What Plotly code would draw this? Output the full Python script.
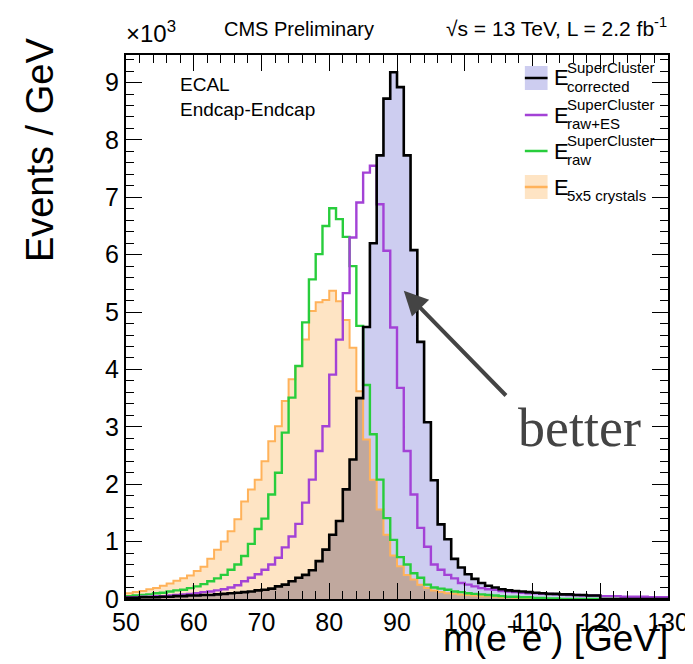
import numpy as np
import plotly.graph_objects as go

# ---------------- data (Events / GeV, in units of 10^3), 1 GeV bins from 50 to 130 ----------------
bin_edges = list(range(50, 131))

e_corrected = [
    0.02, 0.02, 0.03, 0.03, 0.03, 0.04, 0.04, 0.05, 0.05, 0.06,
    0.06, 0.07, 0.07, 0.08, 0.09, 0.10, 0.11, 0.12, 0.13, 0.15,
    0.16, 0.18, 0.22, 0.25, 0.31, 0.37, 0.42, 0.50, 0.66, 0.86,
    1.12, 1.36, 1.91, 2.43, 3.50, 4.74, 6.20, 7.73, 8.72, 9.18,
    8.92, 7.73, 6.08, 4.48, 3.08, 2.07, 1.30, 1.04, 0.70, 0.55,
    0.43, 0.35, 0.28, 0.23, 0.20, 0.17, 0.15, 0.14, 0.13, 0.12,
    0.11, 0.10, 0.09, 0.09, 0.08, 0.08, 0.07, 0.07, 0.06, 0.06,
    0.00, 0.00, 0.00, 0.00, 0.00, 0.00, 0.00, 0.00, 0.00, 0.00,
]

e_raw_es = [
    0.03, 0.03, 0.04, 0.04, 0.05, 0.05, 0.06, 0.07, 0.08, 0.09,
    0.10, 0.12, 0.13, 0.15, 0.17, 0.20, 0.24, 0.31, 0.37, 0.43,
    0.51, 0.60, 0.72, 0.90, 1.09, 1.31, 1.68, 2.08, 2.58, 3.01,
    3.91, 4.52, 5.33, 6.30, 6.91, 7.43, 7.55, 6.88, 6.07, 4.73,
    3.68, 2.58, 1.82, 1.24, 0.91, 0.60, 0.51, 0.42, 0.36, 0.28,
    0.25, 0.22, 0.19, 0.17, 0.16, 0.14, 0.13, 0.12, 0.11, 0.10,
    0.10, 0.09, 0.09, 0.08, 0.08, 0.07, 0.07, 0.06, 0.06, 0.06,
    0.05, 0.05, 0.05, 0.04, 0.04, 0.04, 0.04, 0.03, 0.03, 0.03,
]

e_raw = [
    0.05, 0.06, 0.07, 0.08, 0.10, 0.11, 0.13, 0.15, 0.16, 0.19,
    0.22, 0.26, 0.31, 0.36, 0.42, 0.51, 0.60, 0.75, 0.96, 1.22,
    1.40, 1.82, 2.20, 2.90, 3.51, 4.06, 4.82, 5.57, 6.01, 6.50,
    6.81, 6.62, 6.31, 5.80, 4.76, 3.73, 2.87, 2.08, 1.41, 1.03,
    0.73, 0.60, 0.45, 0.37, 0.25, 0.20, 0.18, 0.16, 0.13, 0.12,
    0.10, 0.09, 0.08, 0.07, 0.06, 0.05, 0.04, 0.04, 0.03, 0.03,
    0.02, 0.02, 0.01, 0.01, 0.00, 0.00, 0.00, 0.00, 0.00, 0.00,
    0.00, 0.00, 0.00, 0.00, 0.00, 0.00, 0.00, 0.00, 0.00, 0.00,
]

e_5x5 = [
    0.10, 0.12, 0.14, 0.17, 0.19, 0.23, 0.27, 0.32, 0.36, 0.41,
    0.49, 0.56, 0.70, 0.86, 1.00, 1.18, 1.39, 1.70, 1.91, 2.08,
    2.40, 2.75, 3.01, 3.45, 3.83, 4.06, 4.52, 5.02, 5.17, 5.21,
    5.37, 5.19, 4.86, 4.38, 3.62, 2.78, 2.08, 1.56, 1.12, 0.76,
    0.57, 0.42, 0.34, 0.25, 0.19, 0.15, 0.12, 0.10, 0.09, 0.08,
    0.07, 0.06, 0.05, 0.05, 0.04, 0.03, 0.03, 0.02, 0.02, 0.01,
    0.01, 0.01, 0.00, 0.00, 0.00, 0.00, 0.00, 0.00, 0.00, 0.00,
    0.00, 0.00, 0.00, 0.00, 0.00, 0.00, 0.00, 0.00, 0.00, 0.00,
]

x_ticks = [50, 60, 70, 80, 90, 100, 110, 120, 130]
y_ticks = [0, 1, 2, 3, 4, 5, 6, 7, 8, 9]

# ---------------- styling ----------------
W, H = 693, 664
ML, MR, MT, MB = 118, 26, 47, 73
PW, PH = W - ML - MR, H - MT - MB
FONT = "Liberation Sans, Arial, Helvetica, sans-serif"

BLUE_FILL = "rgb(205,205,240)"
ORANGE_FILL = "rgb(254,228,196)"
BROWN_FILL = "rgb(192,168,158)"
C_BLACK = "rgb(0,0,0)"
C_PURPLE = "rgb(163,66,214)"
C_GREEN = "rgb(40,205,60)"
C_ORANGE = "rgb(255,178,90)"


def px(x):
    return (x - ML) / PW


def py(y):
    return (H - MB - y) / PH


def step(vals):
    xs = bin_edges
    ys = list(vals) + [vals[-1]]
    return xs, ys


fig = go.Figure()

# fills
for vals, col in [(e_corrected, BLUE_FILL), (e_5x5, ORANGE_FILL),
                  (np.minimum(e_corrected, e_5x5).tolist(), BROWN_FILL)]:
    xs, ys = step(vals)
    fig.add_trace(go.Scatter(x=xs, y=ys, mode="lines", line=dict(width=0, shape="hv"),
                             fill="tozeroy", fillcolor=col, hoverinfo="skip", showlegend=False))

# outlines
for vals, col, w in [(e_5x5, C_ORANGE, 2.0), (e_raw, C_GREEN, 2.4),
                     (e_raw_es, C_PURPLE, 2.4), (e_corrected, C_BLACK, 2.6)]:
    xs, ys = step(vals)
    fig.add_trace(go.Scatter(x=xs, y=ys, mode="lines", line=dict(color=col, width=w, shape="hv"),
                             showlegend=False))

axis_common = dict(showline=True, linewidth=2, linecolor="black", mirror="allticks",
                   ticks="inside", ticklen=16, tickwidth=1.3, tickcolor="black",
                   showgrid=False, zeroline=False,
                   tickfont=dict(family=FONT, size=25, color="black"))

fig.update_xaxes(range=[50, 130], tickvals=x_ticks, ticktext=[str(v) for v in x_ticks],
                 minor=dict(ticks="inside", ticklen=8, tickwidth=1.1, tickcolor="black", dtick=2, tick0=50),
                 **axis_common)
fig.update_yaxes(range=[0, 9.48], tickvals=y_ticks, ticktext=[str(v) for v in y_ticks],
                 minor=dict(ticks="inside", ticklen=8, tickwidth=1.1, tickcolor="black", dtick=0.2, tick0=0),
                 **axis_common)

ann = []
# axis titles
ann.append(dict(text="Events / GeV", x=px(31), y=py(142), xref="paper", yref="paper",
                textangle=-90, showarrow=False, xanchor="center", yanchor="middle",
                font=dict(family=FONT, size=38, color="black")))
ann.append(dict(text="m(e<sup>+</sup>e<sup>-</sup>) [GeV]", x=px(669), y=py(627), xref="paper", yref="paper",
                showarrow=False, xanchor="right", yanchor="middle",
                font=dict(family=FONT, size=37, color="black")))
# header texts
ann.append(dict(text="×10<sup>3</sup>", x=px(116), y=py(24), xref="paper", yref="paper",
                showarrow=False, xanchor="left", yanchor="middle",
                font=dict(family=FONT, size=24, color="black")))
ann.append(dict(text="CMS Preliminary", x=px(215), y=py(21), xref="paper", yref="paper",
                showarrow=False, xanchor="left", yanchor="middle",
                font=dict(family=FONT, size=20, color="black")))
ann.append(dict(text="√s = 13 TeV, L = 2.2 fb<sup>-1</sup>", x=px(668), y=py(19), xref="paper", yref="paper",
                showarrow=False, xanchor="right", yanchor="middle",
                font=dict(family=FONT, size=21, color="black")))
ann.append(dict(text="ECAL<br>Endcap-Endcap", x=px(171), y=py(64), xref="paper", yref="paper",
                showarrow=False, xanchor="left", yanchor="top", align="left",
                font=dict(family=FONT, size=19, color="black")))

# legend (manual)
shapes = []
leg = [
    (70, C_BLACK, BLUE_FILL, "corrected"),
    (107, C_PURPLE, None, "raw+ES"),
    (143, C_GREEN, None, "raw"),
    (179, C_ORANGE, ORANGE_FILL, "5x5 crystals"),
]
for yc, lc, fc, sub in leg:
    if fc is not None:
        shapes.append(dict(type="rect", xref="paper", yref="paper", x0=px(522), x1=px(545),
                           y0=py(yc - 12), y1=py(yc + 12), fillcolor=fc, line=dict(width=0), layer="above"))
    shapes.append(dict(type="line", xref="paper", yref="paper", x0=px(522), x1=px(545),
                       y0=py(yc), y1=py(yc), line=dict(color=lc, width=2.5), layer="above"))
    ann.append(dict(text="E", x=px(549), y=py(yc), xref="paper", yref="paper", showarrow=False,
                    xanchor="left", yanchor="middle", font=dict(family=FONT, size=22, color="black")))
    if sub != "5x5 crystals":
        ann.append(dict(text="SuperCluster", x=px(563), y=py(yc - 11), xref="paper", yref="paper",
                        showarrow=False, xanchor="left", yanchor="middle",
                        font=dict(family=FONT, size=15, color="black")))
    ann.append(dict(text=sub, x=px(563), y=py(yc + 8), xref="paper", yref="paper",
                    showarrow=False, xanchor="left", yanchor="middle",
                    font=dict(family=FONT, size=15, color="black")))

# arrow + "better"
ann.append(dict(text="", x=91.0, y=5.37, ax=106.3, ay=3.52, xref="x", yref="y", axref="x", ayref="y",
                showarrow=True, arrowhead=2, arrowsize=1.2, arrowwidth=4, arrowcolor="rgb(68,68,68)",
                standoff=0))
ann.append(dict(text="better", x=px(513), y=py(420), xref="paper", yref="paper", showarrow=False,
                xanchor="left", yanchor="middle",
                font=dict(family="Liberation Serif, Times New Roman, serif", size=54, color="rgb(68,68,68)")))

fig.update_layout(width=W, height=H, margin=dict(l=ML, r=MR, t=MT, b=MB),
                  plot_bgcolor="white", paper_bgcolor="white",
                  annotations=ann, shapes=shapes, showlegend=False)

fig.write_html("out.html")
